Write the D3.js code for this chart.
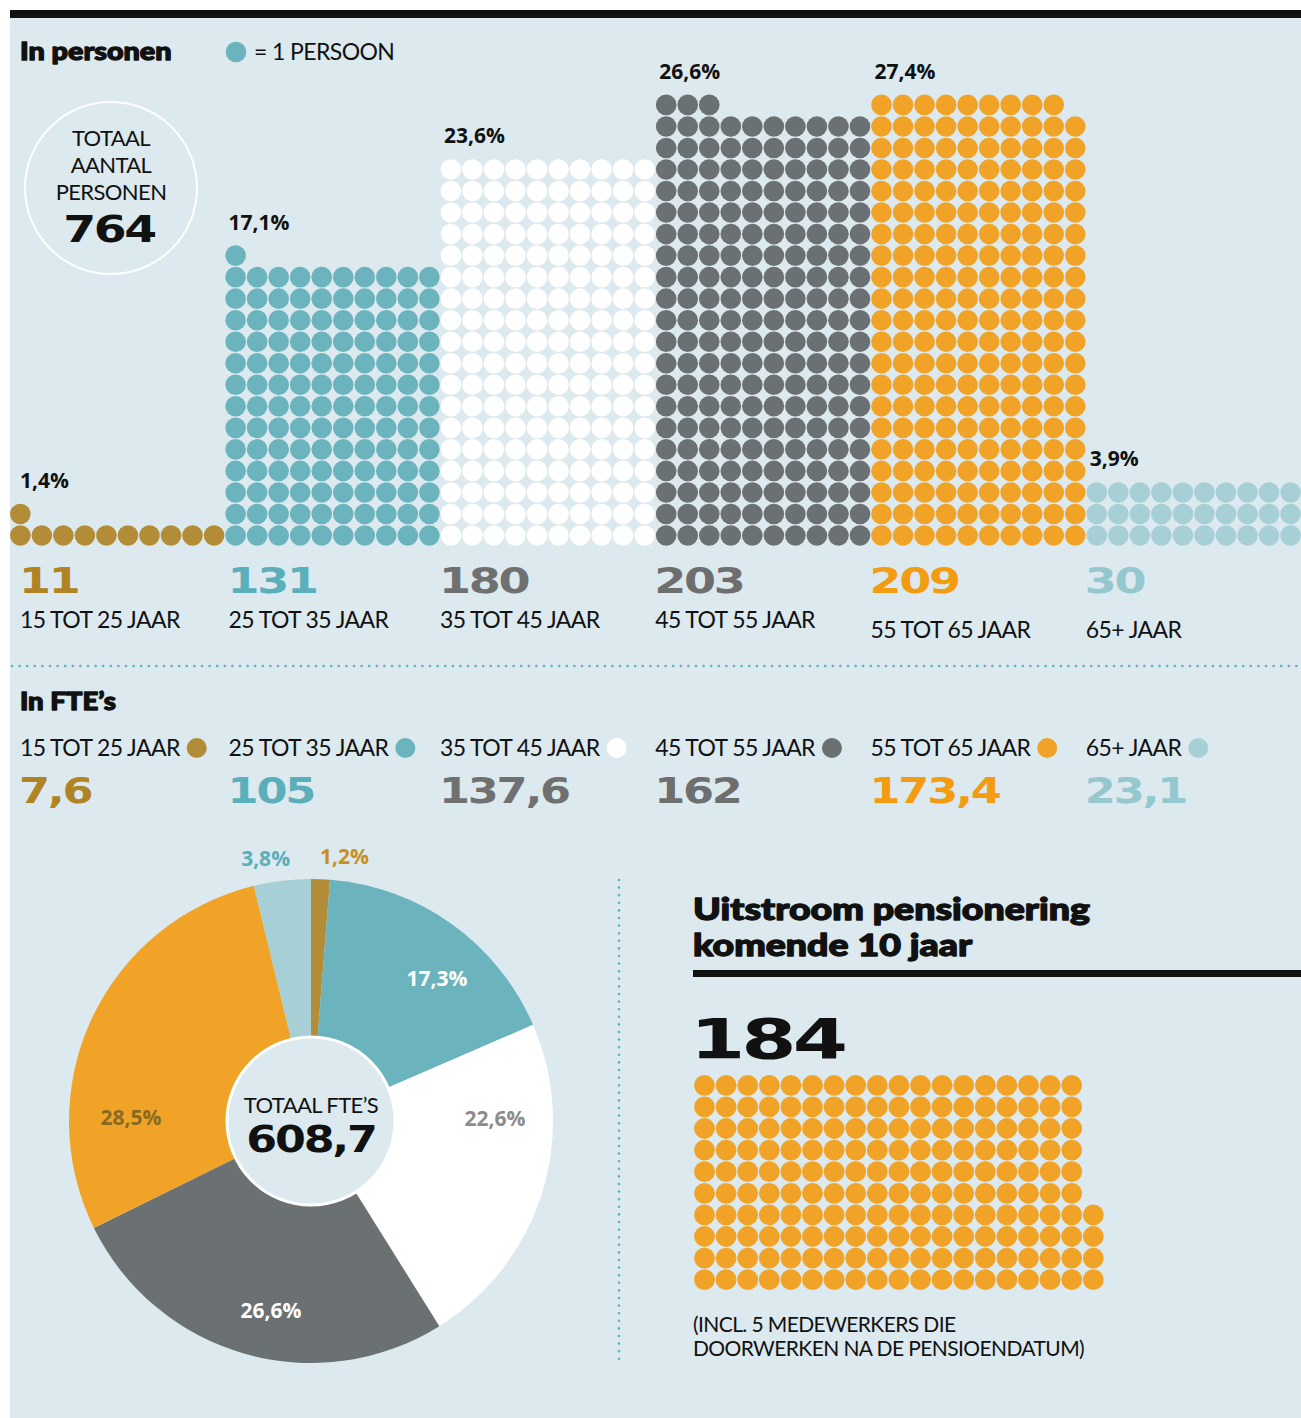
<!DOCTYPE html>
<html>
<head>
<meta charset="utf-8">
<script src="https://cdn.jsdelivr.net/npm/d3@7"></script>
<style>
  body { margin: 0; background: #ffffff; }
  svg { display: block; }
</style>
</head>
<body>
<svg id="chart"></svg>
<script>
// data
const ageGroups = ["15 TOT 25 JAAR", "25 TOT 35 JAAR", "35 TOT 45 JAAR", "45 TOT 55 JAAR", "55 TOT 65 JAAR", "65+ JAAR"];
const persons = [11, 131, 180, 203, 209, 30];
const personPct = ["1,4%", "17,1%", "23,6%", "26,6%", "27,4%", "3,9%"];
const fteValues = [7.6, 105, 137.6, 162, 173.4, 23.1];
const ftePct = ["1,2%", "17,3%", "22,6%", "26,6%", "28,5%", "3,8%"];
const totalPersons = 764;
const totalFte = 608.7;
const retiring = 184;

const dotColors = ["#b28c36", "#6bb3bd", "#ffffff", "#6b7072", "#f0a327", "#a6cfd6"];
const numColors = ["#b08422", "#5aafba", "#707070", "#6e6e6e", "#f39c12", "#95c7cf"];
const bg = "#dce9ee";
const teal = "#5fb0bb";

const width = 1301, height = 1418;
const svg = d3.select("#chart").attr("width", width).attr("height", height);

const numFmt = v => String(v).replace(".", ",");

// background panel + top bar
svg.append("rect").attr("x", 10).attr("y", 18).attr("width", width - 10).attr("height", height - 18).attr("fill", bg);
svg.append("rect").attr("x", 10).attr("y", 10).attr("width", width - 10).attr("height", 8).attr("fill", "#111");

const heavy = "Lato, 'Noto Sans', sans-serif";
const big = "'DejaVu Sans', Verdana, sans-serif";
const pctFont = "'Open Sans', 'Noto Sans', sans-serif";

// wide display numbers: DejaVu bold stretched horizontally
function bigNum(parent, x, y, txt, color, size, anchor, sx) {
  return parent.append("g").attr("transform", `translate(${x},${y})`)
    .append("text")
    .attr("transform", `scale(${sx || 1.2},1)`)
    .attr("text-anchor", anchor || "start")
    .attr("font-family", big).attr("font-weight", 700)
    .attr("font-size", size).attr("fill", color)
    .attr("letter-spacing", -size * 0.05)
    .text(txt);
}
function label(parent, x, y, txt, size, color) {
  return parent.append("text").attr("x", x).attr("y", y)
    .attr("font-family", heavy).attr("font-size", size || 22)
    .attr("letter-spacing", "-0.6px")
    .attr("fill", color || "#111").text(txt);
}
function heading(parent, x, y, txt, size, sx) {
  return parent.append("g").attr("transform", `translate(${x},${y})`)
    .append("text").attr("transform", `scale(${sx || 1},1)`)
    .attr("font-family", heavy).attr("font-weight", 900).attr("font-size", size)
    .attr("fill", "#111").attr("stroke", "#111").attr("stroke-width", 1.3)
    .attr("stroke-linejoin", "round")
    .text(txt);
}

// ---------- In personen ----------
heading(svg, 20, 60, "In personen", 25, 1.15);
svg.append("circle").attr("cx", 236).attr("cy", 52).attr("r", 10.3).attr("fill", dotColors[1]);
label(svg, 254, 60, "= 1 PERSOON", 23);

// total circle
svg.append("circle").attr("cx", 111).attr("cy", 188).attr("r", 86)
  .attr("fill", "none").attr("stroke", "#fff").attr("stroke-width", 2);
["TOTAAL", "AANTAL", "PERSONEN"].forEach((t, i) => {
  label(svg, 111, 146 + i * 27, t, 22).attr("text-anchor", "middle");
});
bigNum(svg, 109, 242, totalPersons, "#111", 37, "middle", 1.28);

// dot grid scales
const perRow = 10;
const colX = d3.scaleLinear().domain([0, 1]).range([20.3, 20.3 + 21.53]);
const rowY = d3.scaleLinear().domain([0, 1]).range([535.5, 535.5 - 21.53]);
const dotR = 10.3;

const dots = [];
persons.forEach((n, g) => {
  for (let i = 0; i < n; i++) {
    dots.push({ g, col: g * perRow + (i % perRow), row: Math.floor(i / perRow) });
  }
});
svg.append("g").selectAll("circle").data(dots).join("circle")
  .attr("cx", d => colX(d.col)).attr("cy", d => rowY(d.row))
  .attr("r", dotR).attr("fill", d => dotColors[d.g]);

// percentage labels above each column
persons.forEach((n, g) => {
  const topRow = Math.ceil(n / perRow) - 1;
  svg.append("text")
    .attr("x", Math.max(20, colX(g * perRow) - 7))
    .attr("y", rowY(topRow) - 26)
    .attr("font-family", pctFont).attr("font-weight", 700).attr("font-size", 21)
    .attr("fill", "#111").text(personPct[g]);
});

// counts and age labels
const colLeft = g => Math.max(20, colX(g * perRow) - (g === 1 ? 7 : 11));
persons.forEach((n, g) => {
  bigNum(svg, colLeft(g) - 1, 593, n, numColors[g], 36, "start", 1.28);
  label(svg, colLeft(g), g >= 4 ? 638 : 628, ageGroups[g], 23);
});

// dotted separator
svg.append("line").attr("x1", 12).attr("x2", width).attr("y1", 666).attr("y2", 666)
  .attr("stroke", teal).attr("stroke-width", 2.6).attr("stroke-linecap", "round")
  .attr("stroke-dasharray", "0 7.6");

// ---------- In FTE's ----------
heading(svg, 20, 710, "In FTE\u2019s", 25, 1.1);

fteValues.forEach((v, g) => {
  const t = label(svg, colLeft(g), 756, ageGroups[g], 23);
  const w = t.node().getComputedTextLength();
  svg.append("circle").attr("cx", colLeft(g) + w + 17).attr("cy", 748)
    .attr("r", 10).attr("fill", dotColors[g]);
  bigNum(svg, colLeft(g) - 1, 803, numFmt(v), numColors[g], 36, "start", 1.24);
});

// ---------- pie ----------
const cx = 311, cy = 1121, R = 242;
const pie = d3.pie().sort(null).value(d => d)(fteValues);
const arc = d3.arc().innerRadius(0).outerRadius(R);
const pieG = svg.append("g").attr("transform", `translate(${cx},${cy})`);
pieG.selectAll("path").data(pie).join("path")
  .attr("d", arc).attr("fill", (d, i) => dotColors[i]);

// label placement: angle offset (deg) and radius, text colours
const pieLabelLayout = [
  { r: 266, da: 5, color: "#c8901e" },
  { r: 190, da: 6, color: "#ffffff" },
  { r: 184, da: -18, color: "#8c8c8c" },
  { r: 194, da: -4, color: "#ffffff" },
  { r: 180, da: -24, color: "#8a6a22" },
  { r: 266, da: -3, color: "#5aafba" }
];
pie.forEach((d, i) => {
  const L = pieLabelLayout[i];
  const a = (d.startAngle + d.endAngle) / 2 + L.da * Math.PI / 180;
  pieG.append("text")
    .attr("x", L.r * Math.sin(a)).attr("y", -L.r * Math.cos(a) + 7)
    .attr("text-anchor", "middle")
    .attr("font-family", pctFont).attr("font-weight", 700).attr("font-size", 21)
    .attr("fill", L.color).text(ftePct[i]);
});

pieG.append("circle").attr("r", 84).attr("fill", bg).attr("stroke", "#fff").attr("stroke-width", 3);
label(pieG, 0, -8, "TOTAAL FTE\u2019S", 22).attr("text-anchor", "middle");
bigNum(pieG, 0, 31, numFmt(totalFte), "#111", 37, "middle", 1.2);

// vertical dotted divider
svg.append("line").attr("x1", 619).attr("x2", 619).attr("y1", 880).attr("y2", 1360)
  .attr("stroke", teal).attr("stroke-width", 2.6).attr("stroke-linecap", "round")
  .attr("stroke-dasharray", "0 7.6");

// ---------- Uitstroom ----------
heading(svg, 693, 920, "Uitstroom pensionering", 30, 1.25);
heading(svg, 693, 956, "komende 10 jaar", 30, 1.25);
svg.append("rect").attr("x", 693).attr("y", 970).attr("width", width - 693).attr("height", 7).attr("fill", "#111");
bigNum(svg, 690, 1058, retiring, "#111", 56, "start", 1.42);

const wX = d3.scaleLinear().domain([0, 1]).range([704.5, 704.5 + 21.6]);
const wY = d3.scaleLinear().domain([0, 1]).range([1279.7, 1279.7 - 21.6]);
const wDots = d3.range(retiring).map(i => ({ col: Math.floor(i / 10), row: i % 10 }));
svg.append("g").selectAll("circle").data(wDots).join("circle")
  .attr("cx", d => wX(d.col)).attr("cy", d => wY(d.row))
  .attr("r", 10.4).attr("fill", dotColors[4]);

label(svg, 693, 1332, "(INCL. 5 MEDEWERKERS DIE", 21);
label(svg, 693, 1356, "DOORWERKEN NA DE PENSIOENDATUM)", 21);
</script>
</body>
</html>
